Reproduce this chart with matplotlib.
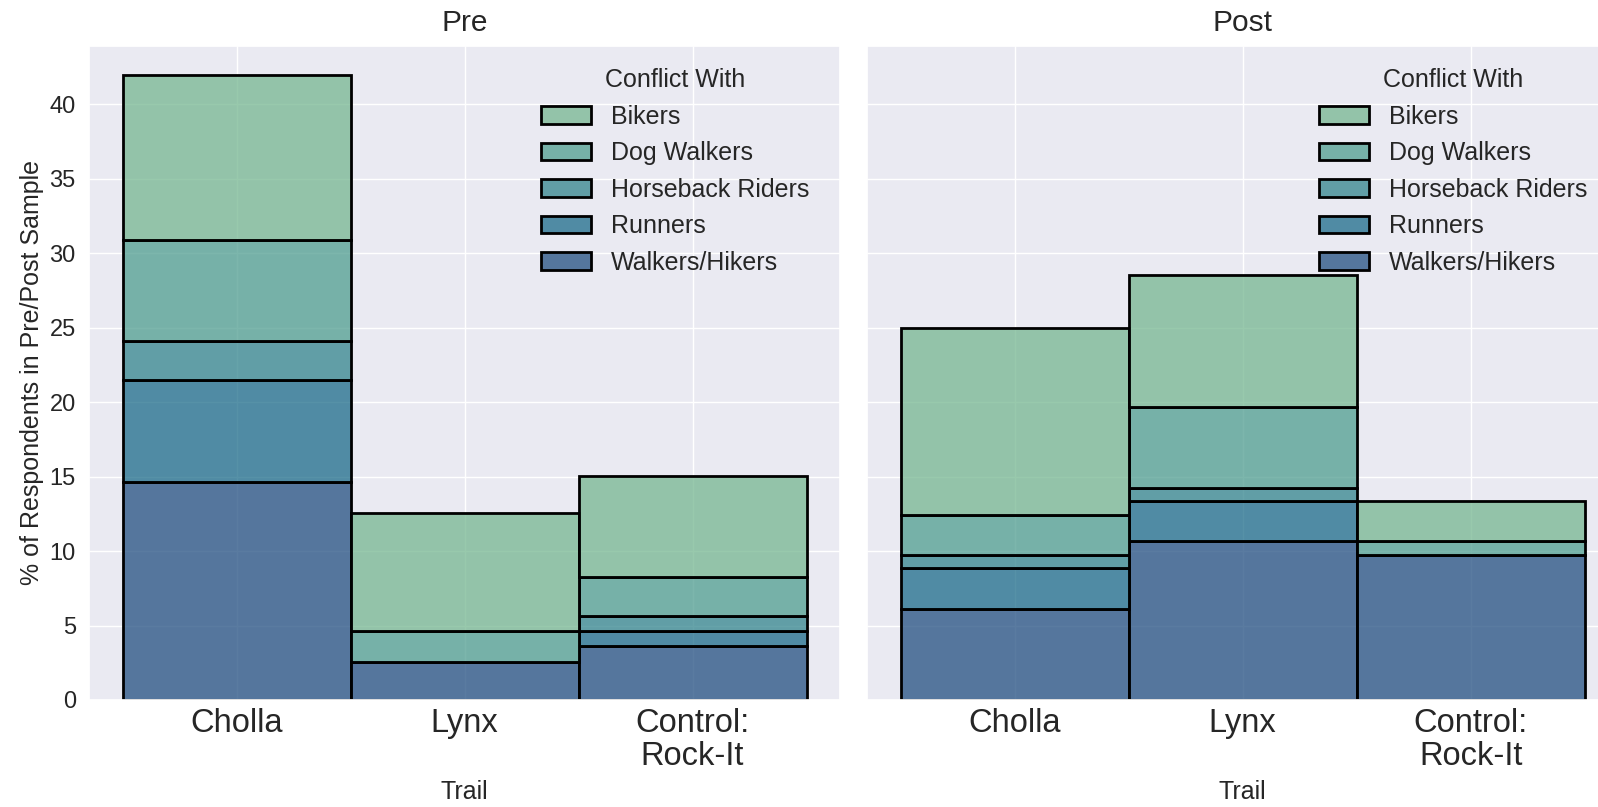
import matplotlib
matplotlib.use("Agg")
import matplotlib.pyplot as plt
import seaborn as sns
import numpy as np

sns.set_theme(style="darkgrid")
plt.rcParams['font.family'] = ['Arial', 'Liberation Sans', 'DejaVu Sans']

trails = ["Cholla", "Lynx", "Control:\nRock-It"]
groups = ["Bikers", "Dog Walkers", "Horseback Riders", "Runners", "Walkers/Hikers"]

# % of respondents, per trail (Cholla, Lynx, Control)
pre = {
    "Walkers/Hikers": [14.65, 2.55, 3.65],
    "Runners": [6.85, 0.0, 1.0],
    "Horseback Riders": [2.57, 0.0, 1.0],
    "Dog Walkers": [6.8, 2.1, 2.6],
    "Bikers": [11.05, 7.9, 6.8],
}
post = {
    "Walkers/Hikers": [6.1, 10.65, 9.75],
    "Runners": [2.75, 2.7, 0.0],
    "Horseback Riders": [0.9, 0.9, 0.0],
    "Dog Walkers": [2.7, 5.45, 0.9],
    "Bikers": [12.5, 8.85, 2.7],
}

colors = dict(zip(groups, sns.color_palette("crest", len(groups))))

fig = plt.figure(figsize=(15.98, 8.07), dpi=100)
ax1 = fig.add_axes([0.0557, 0.1326, 0.470, 0.8104])
ax2 = fig.add_axes([0.5426, 0.1326, 0.470, 0.8104], sharey=ax1)

x = np.arange(len(trails))
for ax, data, title in [(ax1, pre, "Pre"), (ax2, post, "Post")]:
    bottom = np.zeros(len(trails))
    for g in groups[::-1]:
        vals = np.array(data[g])
        ax.bar(x, vals, width=1.0, bottom=bottom, facecolor=(*colors[g], 0.75),
               edgecolor="black", linewidth=2, label=g)
        bottom += vals
    ax.set_xticks(x)
    ax.set_xticklabels(trails, fontsize=23.5, linespacing=1.05)
    ax.tick_params(axis="x", pad=0)
    ax.set_xlim(-0.647, 2.647)
    ax.set_xlabel("Trail", fontsize=18, labelpad=6)
    ax.set_title(title, fontsize=21.5, pad=11)
    ax.tick_params(axis="y", labelsize=17)
    handles, labels = ax.get_legend_handles_labels()
    ax.legend(handles[::-1], labels[::-1], title="Conflict With", loc="upper left",
              bbox_to_anchor=(0.572, 1.0), frameon=False, fontsize=18,
              title_fontsize=18)

ax1.set_ylim(0, 43.9)
ax1.set_ylabel("% of Respondents in Pre/Post Sample", fontsize=18)
plt.setp(ax2.get_yticklabels(), visible=False)

fig.savefig("out.png", dpi=100)
